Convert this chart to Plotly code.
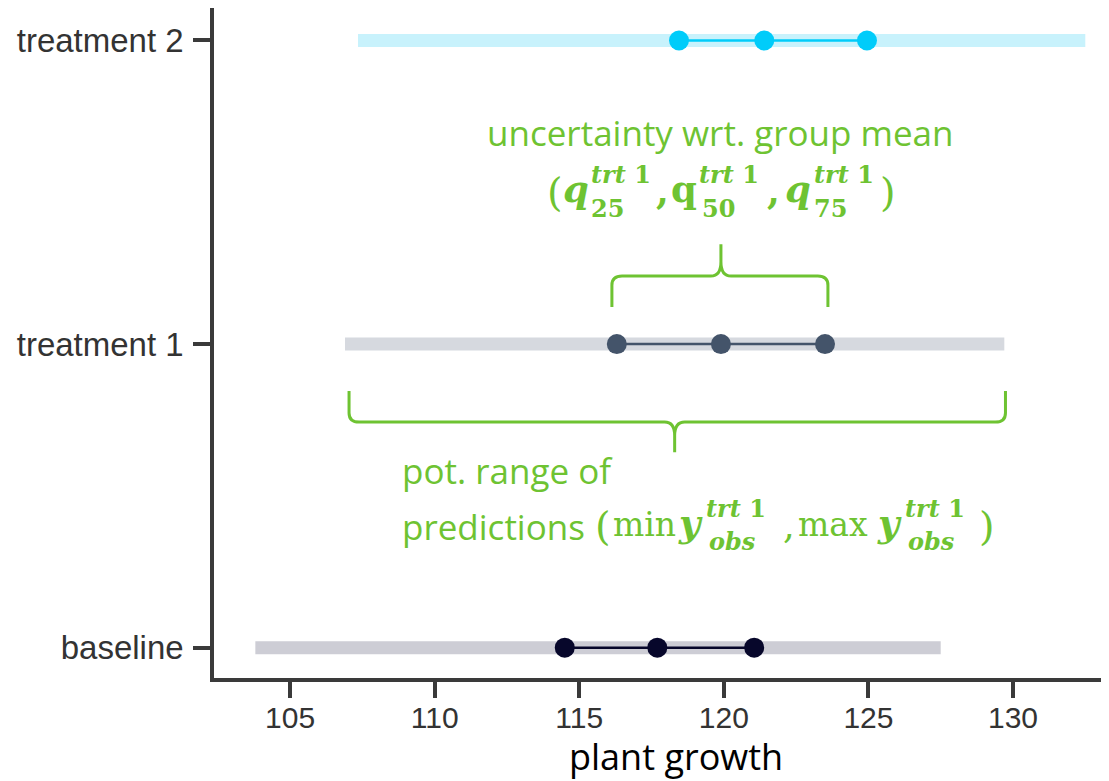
import plotly.graph_objects as go

# ---------------- data ----------------
groups = ["baseline", "treatment 1", "treatment 2"]
obs_min = [103.8, 106.9, 107.35]
obs_max = [127.5, 129.7, 132.5]
q25 = [114.5, 116.3, 118.45]
q50 = [117.7, 119.9, 121.4]
q75 = [121.05, 123.5, 124.95]
x_ticks = [105, 110, 115, 120, 125, 130]

dot_colors = ["#07072B", "#44546A", "#00CCFA"]
band_colors = ["#CDCDD5", "#D6D9DF", "#C8F2FC"]
GREEN = "#6EC332"

# ---------------- layout geometry ----------------
# the page adds an 8px body margin, so the figure is 8px smaller
OFF = 8
W, H = 1109 - OFF, 781 - OFF
L, R, T, B = 214, 1109, 8, 678          # plot area in screenshot pixels
XR = [102.37, 133.32]
YR = [-0.1, 2.107]

fig = go.Figure()

for i, g in enumerate(groups):
    fig.add_trace(go.Scatter(
        x=[obs_min[i], obs_max[i]], y=[i, i], mode="lines",
        line=dict(color=band_colors[i], width=13), hoverinfo="skip", showlegend=False))
    fig.add_trace(go.Scatter(
        x=[q25[i], q50[i], q75[i]], y=[i, i, i], mode="lines+markers",
        line=dict(color=dot_colors[i], width=2.5),
        marker=dict(color=dot_colors[i], size=20), showlegend=False, name=g))

# ---------------- braces (derived from treatment 1 data) ----------------
k = 1
def brace_up(xl, xr, xc, ye, yh, yt, dx=0.35, ry=0.03):
    ym = yh + (yt - yh) * 0.45
    return (f"M {xl},{ye} L {xl},{yh - ry} Q {xl},{yh} {xl + dx},{yh} "
            f"L {xc - dx},{yh} Q {xc},{yh} {xc},{ym} L {xc},{yt} L {xc},{ym} "
            f"Q {xc},{yh} {xc + dx},{yh} L {xr - dx},{yh} Q {xr},{yh} {xr},{yh - ry} L {xr},{ye}")

def brace_down(xl, xr, xc, ye, yh, yt, dx=0.35, ry=0.03):
    ym = yh - (yh - yt) * 0.45
    return (f"M {xl},{ye} L {xl},{yh + ry} Q {xl},{yh} {xl + dx},{yh} "
            f"L {xc - dx},{yh} Q {xc},{yh} {xc},{ym} L {xc},{yt} L {xc},{ym} "
            f"Q {xc},{yh} {xc + dx},{yh} L {xr - dx},{yh} Q {xr},{yh} {xr},{yh + ry} L {xr},{ye}")

fig.add_shape(type="path", xref="x", yref="y",
              path=brace_up(q25[k] - 0.17, q75[k] + 0.1, q50[k], k + 0.122, k + 0.224, k + 0.329),
              line=dict(color=GREEN, width=3))
fig.add_shape(type="path", xref="x", yref="y",
              path=brace_down(obs_min[k] + 0.14, obs_max[k] + 0.04, (obs_min[k] + obs_max[k]) / 2,
                              k - 0.155, k - 0.257, k - 0.356),
              line=dict(color=GREEN, width=3))

# ---------------- text annotations ----------------
def pxx(x):
    return (x - L) / (R - L)

def pxy(y):
    return (B - y) / (B - T)

SANS = "Open Sans"
SERIF = "DejaVu Serif"

def txt(x, base, text, size, family=SERIF, anchor="left", color=GREEN):
    fig.add_annotation(x=pxx(x), y=pxy(base - 0.32 * size), xref="paper", yref="paper",
                       text=text, showarrow=False, xanchor=anchor, yanchor="middle",
                       font=dict(family=family, size=size, color=color), borderpad=0)

M, P, S = 37, 40, 24
# upper label
txt(720, 144, "uncertainty wrt. group mean", 35, SANS, "center")
txt(546, 205, "(", P)
txt(562, 201, "<b><i>q</i></b>", M)
txt(590, 182, "<b><i>trt</i> 1</b>", S)
txt(590, 216, "<b>25</b>", S)
txt(655, 203, "<b>,</b>", M)
txt(670, 201, "<b>q</b>", M)
txt(698, 182, "<b><i>trt</i> 1</b>", S)
txt(701, 216, "<b>50</b>", S)
txt(766, 203, "<b>,</b>", M)
txt(784, 201, "<b><i>q</i></b>", M)
txt(813, 182, "<b><i>trt</i> 1</b>", S)
txt(813, 216, "<b>75</b>", S)
txt(879, 205, ")", P)

# lower label
txt(401, 482, "pot. range of", 35, SANS)
txt(401, 538, "predictions", 35, SANS)
txt(594, 539, "(", P)
txt(612, 535, "min", 33)
txt(677, 535, "<b><i>y</i></b>", M)
txt(705, 516, "<b><i>trt</i> 1</b>", S)
txt(708, 549, "<b><i>obs</i></b>", S)
txt(782, 537, ",", M)
txt(797, 535, "max", 33)
txt(876, 535, "<b><i>y</i></b>", M)
txt(904, 516, "<b><i>trt</i> 1</b>", S)
txt(907, 549, "<b><i>obs</i></b>", S)
txt(978, 539, ")", P)

# x axis title
txt(676, 768, "plant growth", 36, SANS, "center", "#000000")

AX = "#3A3A3A"
fig.update_layout(
    width=W, height=H,
    margin=dict(l=L - OFF, r=W - (R - OFF), t=T - OFF, b=H - (B - OFF), pad=0),
    paper_bgcolor="white", plot_bgcolor="white",
    xaxis=dict(range=XR, tickvals=x_ticks, ticktext=[str(v) for v in x_ticks],
               showgrid=False, zeroline=False, showline=True, linecolor=AX, linewidth=3.5,
               ticks="outside", ticklen=16, tickwidth=3.5, tickcolor=AX, ticklabelstandoff=-6,
               tickfont=dict(family="Liberation Sans", size=30, color="#333333")),
    yaxis=dict(range=YR, tickvals=[0, 1, 2], ticktext=groups,
               showgrid=False, zeroline=False, showline=True, linecolor=AX, linewidth=3.5,
               ticks="outside", ticklen=17, tickwidth=3.5, tickcolor=AX, ticklabelstandoff=3,
               tickfont=dict(family="Liberation Sans", size=33, color="#333333")),
)

fig.write_html("out.html")
